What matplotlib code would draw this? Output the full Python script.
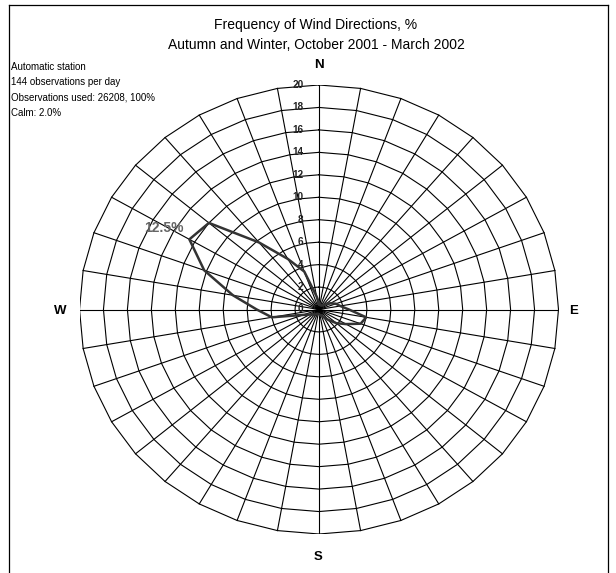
import numpy as np
import matplotlib
matplotlib.use("Agg")
import matplotlib.pyplot as plt
from matplotlib.lines import Line2D

plt.rcParams['font.family'] = ['Liberation Sans', 'DejaVu Sans']

# ---- data ----
directions = [0, 10, 20, 30, 40, 50, 60, 70, 80, 90, 100, 110, 120, 130, 140, 150, 160, 170,
              180, 190, 200, 210, 220, 230, 240, 250, 260, 270, 280, 290, 300, 310, 320, 330, 340, 350]
frequency = [0.6, 0.4, 0.4, 0.4, 0.5, 0.8, 1.1, 1.5, 1.8, 2.5, 4.0, 3.7, 2.6, 1.9, 1.2, 0.8, 0.6, 0.5,
             0.4, 0.4, 0.4, 0.5, 0.6, 0.7, 0.9, 1.4, 4.0, 5.2, 7.3, 10.2, 12.5, 12.0, 7.8, 5.2, 3.6, 1.2]
ring_values = [0, 2, 4, 6, 8, 10, 12, 14, 16, 18, 20]
compass = ['N', 'E', 'S', 'W']
title_lines = ['Frequency of Wind Directions, %', 'Autumn and Winter, October 2001 - March 2002']
info_lines = ['Automatic station', '144 observations per day',
              'Observations used: 26208, 100%', 'Calm: 2.0%']
max_label = '12.5%'

W, H = 616, 573
fig = plt.figure(figsize=(W / 100, H / 100), dpi=100)
fig.patch.set_facecolor('white')

# axes placed so that ring 20 spans the measured pixel extents
cx, cy = 319.0, 309.5
rx, ry = 239.5, 224.5
ax = fig.add_axes([(cx - rx) / W, (H - cy - ry) / H, 2 * rx / W, 2 * ry / H])
ax.set_xlim(-20, 20)
ax.set_ylim(-20, 20)
ax.axis('off')

th = np.deg2rad(np.array(directions, dtype=float))
sx, sy = np.sin(th), np.cos(th)
rmax = ring_values[-1]


def closed(v):
    return np.concatenate([v, v[:1]])


# rings (polygons through spokes)
for r in ring_values[1:]:
    ax.plot(closed(r * sx), closed(r * sy), color='black', lw=0.8, solid_joinstyle='round')

# spokes
for x1, y1 in zip(sx, sy):
    ax.plot([0, rmax * x1], [0, rmax * y1], color='black', lw=0.8)

# data polygon
f = np.array(frequency)
ax.plot(closed(f * sx), closed(f * sy), color='#333333', lw=1.8,
        solid_joinstyle='round', zorder=5)

# ring labels
for r in ring_values:
    ax.text(-1.3, r, str(r), ha='right', va='center', fontsize=7.2,
            fontweight='bold', color='#222222', zorder=6)

# maximum label
imax = int(np.argmax(f))
ax.annotate(max_label, (f[imax] * sx[imax], f[imax] * sy[imax]), xytext=(-4, 8),
            textcoords='offset points', ha='right', va='center', fontsize=10,
            fontweight='bold', color='#666666', zorder=6)


def fx(px):
    return px / W


def fy(py):
    return 1 - py / H


# compass labels
comp_pos = {'N': (319, 65), 'E': (574, 311), 'S': (318, 557), 'W': (60, 311)}
for c in compass:
    px, py = comp_pos[c]
    fig.text(fx(px), fy(py), c, ha='center', va='center', fontsize=9.5, fontweight='bold')

# titles
fig.text(fx(316), fy(25), title_lines[0], ha='center', va='center', fontsize=10)
fig.text(fx(316), fy(45), title_lines[1], ha='center', va='center', fontsize=10)

# info text
for i, line in enumerate(info_lines):
    fig.text(fx(11), fy(67 + 15.3 * i), line, ha='left', va='center', fontsize=7.0)

# frame
fig.add_artist(Line2D([fx(9), fx(9)], [fy(5), 0], color='black', lw=0.9, transform=fig.transFigure))
fig.add_artist(Line2D([fx(9), fx(608)], [fy(5), fy(5)], color='black', lw=0.9, transform=fig.transFigure))
fig.add_artist(Line2D([fx(608), fx(608)], [fy(5), 0], color='black', lw=0.9, transform=fig.transFigure))

fig.savefig('out.png', dpi=100, facecolor='white')
